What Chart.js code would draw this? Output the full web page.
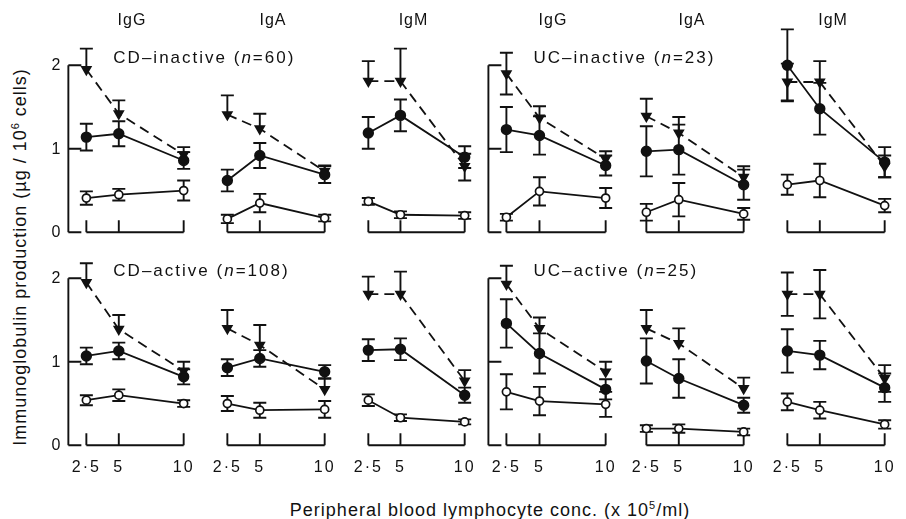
<!DOCTYPE html>
<html>
<head>
<meta charset="utf-8">
<script src="https://cdn.jsdelivr.net/npm/chart.js@4.4.0/dist/chart.umd.min.js"></script>
<style>
  body { margin: 0; background: #fff; }
  #fig { position: relative; width: 906px; height: 519px; overflow: hidden;
         font-family: "Liberation Sans", Arial, sans-serif; color: #111; }
  #fig canvas { position: absolute; }
  .lbl { position: absolute; white-space: nowrap; line-height: 1; transform: translate(-50%, -50%); }
  .head { font-size: 16px; letter-spacing: 1px; }
  .grp { font-size: 17px; letter-spacing: 2px; transform: translate(0, -50%); }
  .tick { font-size: 16px; letter-spacing: 2px; }
  .ytick { font-size: 16px; transform: translate(-100%, -50%); }
  .title { font-size: 18px; letter-spacing: 1px; }
  .sup { font-size: 11px; position: relative; top: -7px; }
</style>
</head>
<body>
<div id="fig"></div>
<script>
// DATOS
const conc = [2.5, 5, 10];
const xTickLabels = ['2·5', '5', '10'];
const yTicks = [0, 1, 2];
const isotypes = ['IgG', 'IgA', 'IgM', 'IgG', 'IgA', 'IgM'];
const groupNames = ['CD–inactive', 'UC–inactive', 'CD–active', 'UC–active'];
const groupN = [60, 23, 108, 25];

// panels: CD-inactive IgG/IgA/IgM, UC-inactive IgG/IgA/IgM, CD-active ..., UC-active ...
const filledMean = [
  [1.14, 1.18, 0.86], [0.62, 0.92, 0.69], [1.19, 1.40, 0.90],
  [1.23, 1.16, 0.80], [0.97, 0.99, 0.57], [2.00, 1.48, 0.84],
  [1.07, 1.13, 0.82], [0.93, 1.04, 0.88], [1.14, 1.15, 0.60],
  [1.46, 1.10, 0.67], [1.01, 0.80, 0.48], [1.13, 1.08, 0.69]
];
const filledErr = [
  [0.16, 0.15, 0.10], [0.13, 0.15, 0.10], [0.19, 0.19, 0.13],
  [0.27, 0.23, 0.12], [0.30, 0.30, 0.18], [0.43, 0.31, 0.18],
  [0.10, 0.10, 0.09], [0.10, 0.10, 0.08], [0.13, 0.13, 0.09],
  [0.29, 0.24, 0.12], [0.27, 0.23, 0.09], [0.26, 0.17, 0.17]
];
const openMean = [
  [0.41, 0.45, 0.50], [0.16, 0.35, 0.17], [0.37, 0.21, 0.20],
  [0.18, 0.49, 0.41], [0.24, 0.39, 0.22], [0.57, 0.62, 0.32],
  [0.54, 0.60, 0.50], [0.50, 0.42, 0.43], [0.54, 0.33, 0.28],
  [0.64, 0.53, 0.49], [0.20, 0.20, 0.16], [0.52, 0.42, 0.25]
];
const openErr = [
  [0.08, 0.07, 0.12], [0.05, 0.11, 0.04], [0.04, 0.04, 0.04],
  [0.04, 0.17, 0.12], [0.10, 0.20, 0.07], [0.12, 0.20, 0.08],
  [0.06, 0.07, 0.04], [0.09, 0.09, 0.10], [0.07, 0.04, 0.03],
  [0.21, 0.17, 0.15], [0.04, 0.05, 0.04], [0.10, 0.10, 0.05]
];
const triMean = [
  [1.95, 1.42, 0.93], [1.41, 1.24, 0.73], [1.81, 1.81, 0.79],
  [1.90, 1.37, 0.88], [1.39, 1.19, 0.66], [1.80, 1.80, 0.79],
  [1.95, 1.39, 0.89], [1.40, 1.20, 0.67], [1.81, 1.81, 0.77],
  [1.93, 1.40, 0.88], [1.40, 1.22, 0.68], [1.81, 1.81, 0.80]
];
const triErrUp = [
  [0.25, 0.16, 0.09], [0.23, 0.18, 0.07], [0.24, 0.39, 0.15],
  [0.25, 0.14, 0.09], [0.21, 0.19, 0.13], [0.22, 0.25, 0.13],
  [0.23, 0.17, 0.11], [0.22, 0.24, 0.13], [0.21, 0.27, 0.13],
  [0.22, 0.13, 0.12], [0.22, 0.18, 0.13], [0.26, 0.29, 0.16]
];
const triErrDown = [
  [0, 0, 0], [0, 0, 0], [0, 0, 0.17],
  [0.25, 0, 0], [0, 0, 0], [0.22, 0, 0.13],
  [0, 0, 0], [0, 0, 0], [0, 0, 0],
  [0, 0, 0], [0, 0, 0], [0.26, 0.29, 0.16]
];

// LAYOUT
const tick25Px = [83, 224, 365, 503, 643, 784];
const tick10Px = [189, 330, 470, 611, 749, 890];
const rowZeroPx = [238, 451];
const pxPerUnit = 88.5;
const padLeft = 42, padRight = 18;
const fig = document.getElementById('fig');

function addLabel(html, x, y, cls) {
  const el = document.createElement('div');
  el.className = 'lbl ' + cls;
  el.innerHTML = html;
  el.style.left = x + 'px';
  el.style.top = y + 'px';
  fig.appendChild(el);
  return el;
}

const errorBars = {
  id: 'errorBars',
  beforeDatasetsDraw(chart) {
    const ctx = chart.ctx, y = chart.scales.y;
    ctx.save();
    ctx.strokeStyle = '#111';
    ctx.lineWidth = 1.9;
    chart.data.datasets.forEach((ds, d) => {
      chart.getDatasetMeta(d).data.forEach((pt, i) => {
        const v = ds.data[i].y;
        const top = y.getPixelForValue(v + ds.errUp[i]);
        const bot = y.getPixelForValue(v - ds.errDown[i]);
        ctx.beginPath();
        ctx.moveTo(pt.x, top);
        ctx.lineTo(pt.x, bot);
        if (ds.errUp[i] > 0) { ctx.moveTo(pt.x - 6.5, top); ctx.lineTo(pt.x + 6.5, top); }
        if (ds.errDown[i] > 0) { ctx.moveTo(pt.x - 6.5, bot); ctx.lineTo(pt.x + 6.5, bot); }
        ctx.stroke();
      });
    });
    ctx.restore();
  }
};

const brackets = {
  id: 'brackets',
  beforeDatasetsDraw(chart, args, opts) {
    const { ctx, scales: { x, y } } = chart;
    const y0 = y.getPixelForValue(0);
    const xs = conc.map(c => x.getPixelForValue(c));
    ctx.save();
    ctx.strokeStyle = '#111';
    ctx.lineWidth = 1.9;
    ctx.beginPath();
    ctx.moveTo(xs[0], y0);
    ctx.lineTo(xs[2], y0);
    xs.forEach(px => { ctx.moveTo(px, y0); ctx.lineTo(px, y0 - 12); });
    if (opts.yAxis) {
      const ax = xs[0] - 18;
      ctx.moveTo(ax, y.getPixelForValue(yTicks[0]));
      ctx.lineTo(ax, y.getPixelForValue(yTicks[yTicks.length - 1]));
      yTicks.forEach(t => {
        const py = y.getPixelForValue(t);
        ctx.moveTo(ax, py);
        ctx.lineTo(ax + 13, py);
      });
    }
    ctx.stroke();
    ctx.restore();
  }
};

function serie(mean, up, down, style) {
  return Object.assign({
    data: conc.map((x, i) => ({ x, y: mean[i] })),
    errUp: up,
    errDown: down,
    borderColor: '#111',
    borderWidth: 1.8,
    tension: 0,
    fill: false,
    clip: false
  }, style);
}

function crearPanel(p) {
  const row = Math.floor(p / 6), col = p % 6;
  const k = (tick10Px[col] - tick25Px[col]) / (conc[2] - conc[0]);
  const left = tick25Px[col] - padLeft;
  const width = tick10Px[col] - tick25Px[col] + padLeft + padRight;
  const top = Math.round(rowZeroPx[row] - 2.5 * pxPerUnit);
  const height = 240;
  const yMax = (rowZeroPx[row] - top) / pxPerUnit;
  const yMin = yMax - height / pxPerUnit;
  const xMin = conc[0] - padLeft / k;
  const xMax = xMin + width / k;

  const canvas = document.createElement('canvas');
  canvas.width = width;
  canvas.height = height;
  canvas.style.left = left + 'px';
  canvas.style.top = top + 'px';
  canvas.style.width = width + 'px';
  canvas.style.height = height + 'px';
  fig.appendChild(canvas);

  const chart = new Chart(canvas, {
    type: 'line',
    data: {
      datasets: [
        serie(openMean[p], openErr[p], openErr[p],
          { pointStyle: 'circle', pointRadius: 4, pointBackgroundColor: '#fff', pointBorderColor: '#111', pointBorderWidth: 1.7 }),
        serie(filledMean[p], filledErr[p], filledErr[p],
          { pointStyle: 'circle', pointRadius: 4.8, pointBackgroundColor: '#111', pointBorderColor: '#111' }),
        serie(triMean[p], triErrUp[p], triErrDown[p],
          { borderDash: [10, 6], pointStyle: 'triangle', rotation: 180, pointRadius: 5, pointBackgroundColor: '#111', pointBorderColor: '#111' })
      ]
    },
    options: {
      responsive: false,
      animation: false,
      devicePixelRatio: 1,
      layout: { padding: 0 },
      scales: {
        x: { type: 'linear', min: xMin, max: xMax, display: false },
        y: { type: 'linear', min: yMin, max: yMax, display: false }
      },
      plugins: {
        legend: { display: false },
        tooltip: { enabled: false },
        brackets: { yAxis: col % 3 === 0 }
      }
    },
    plugins: [errorBars, brackets]
  });

  const xs = conc.map(c => left + chart.scales.x.getPixelForValue(c));
  const yPx = v => top + chart.scales.y.getPixelForValue(v);

  if (row === 0) addLabel(isotypes[col], (xs[0] + xs[2]) / 2 - 3, 20, 'head');
  if (row === 1) conc.forEach((c, i) => addLabel(xTickLabels[i], xs[i], 467, 'tick'));
  if (col === 0) yTicks.forEach(t => addLabel(String(t), xs[0] - 26, yPx(t), 'ytick'));
  if (col % 3 === 0) {
    const g = row * 2 + col / 3;
    addLabel(`${groupNames[g]} (<i>n</i>=${groupN[g]})`, xs[0] + 27, yPx(2.1), 'grp');
  }
}

for (let p = 0; p < 12; p++) crearPanel(p);

// TITULOS
addLabel('Peripheral blood lymphocyte conc. (x 10<span class="sup">5</span>/ml)', 490, 510, 'title');
const yt = addLabel('Immunoglobulin production (µg / 10<span class="sup">6</span> cells)', 20, 257, 'title');
yt.style.transform = 'translate(-50%, -50%) rotate(-90deg)';
</script>
</body>
</html>
